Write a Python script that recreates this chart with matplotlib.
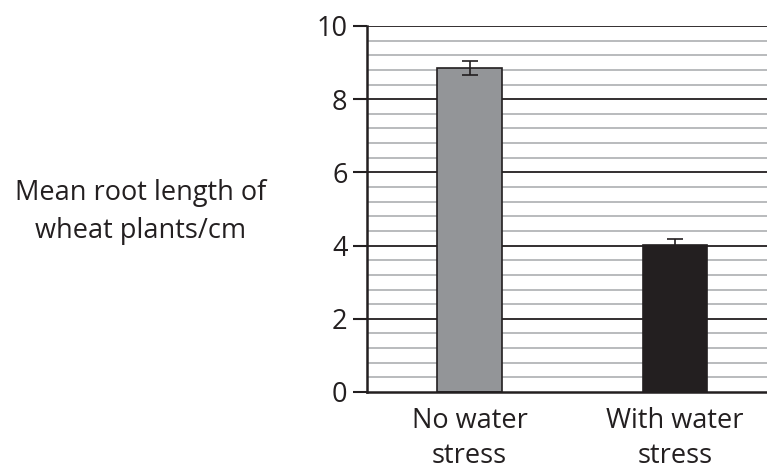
import matplotlib
matplotlib.use("Agg")
import matplotlib.pyplot as plt
import numpy as np

categories = ["No water\nstress", "With water\nstress"]
values = [8.85, 4.02]
errors = [0.19, 0.17]
bar_colors = ["#939598", "#231f20"]
yticks = [0, 2, 4, 6, 8, 10]

plt.rcParams['font.family'] = ['Open Sans', 'DejaVu Sans']

fig = plt.figure(figsize=(7.67, 4.71), dpi=100)
ax = fig.add_axes([367/767, 79/471, 1 - 367/767, (392-26)/471])

x = np.arange(len(categories))
ax.set_axisbelow(True)
for yv in np.arange(0.4, 10, 0.4):
    if abs(yv/2 - round(yv/2)) > 1e-6:
        ax.axhline(yv, color="#b3b5b8", lw=1.3, zorder=0)
for yv in yticks[1:]:
    ax.axhline(yv, color="#231f20", lw=1.3, zorder=0)

ax.bar(x, values, width=0.316, color=bar_colors, edgecolor="#231f20", lw=1.2, zorder=2)
ax.errorbar(x, values, yerr=errors, fmt="none", ecolor="#231f20", elinewidth=1.2,
            capsize=6, capthick=1.2, zorder=3)

ax.set_xlim(-0.499, 1.448)
ax.set_ylim(0, 10)
ax.set_yticks(yticks)
ax.set_yticklabels([str(v) for v in yticks], fontsize=19.5, color="#231f20")
ax.set_xticks(x)
ax.set_xticklabels(categories, fontsize=19.5, linespacing=1.3, color="#231f20")
ax.tick_params(axis="y", direction="out", length=10, width=1.5, color="#231f20", pad=4)
ax.tick_params(axis="x", length=0, pad=11)
for s in ["top", "right"]:
    ax.spines[s].set_visible(False)
for s in ["left", "bottom"]:
    ax.spines[s].set_linewidth(1.8)
    ax.spines[s].set_color("#231f20")

fig.text(141/767, 1 - 212/471, "Mean root length of\nwheat plants/cm", ha="center", va="center",
         fontsize=19.5, linespacing=1.45, color="#231f20")

fig.savefig("out.png", dpi=100)
